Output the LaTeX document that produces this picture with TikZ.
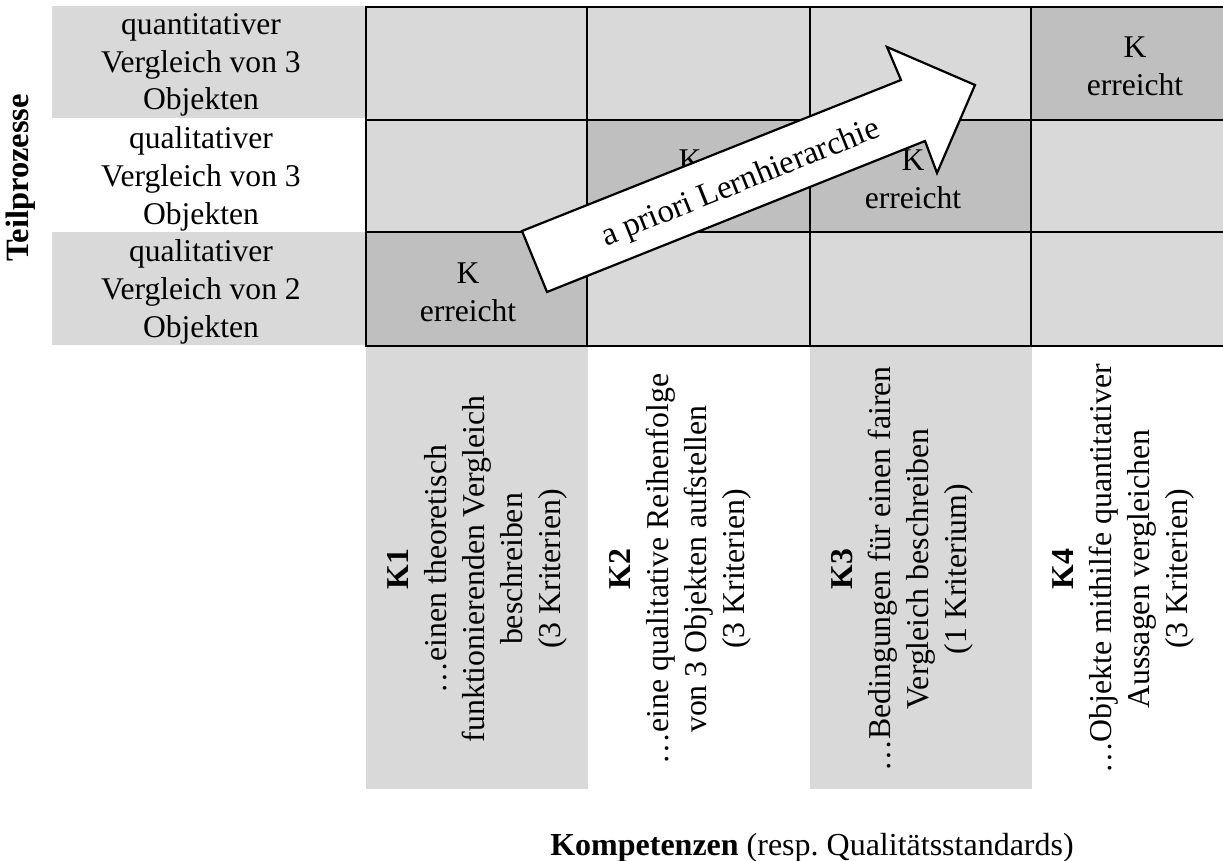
\documentclass[tikz,border=0pt]{standalone}
\usepackage{fontspec}
\setmainfont{Liberation Serif}
\definecolor{lightg}{HTML}{D9D9D9}
\definecolor{darkg}{HTML}{BFBFBF}
\begin{document}
\begin{tikzpicture}[x=1pt,y=-1pt,
  txt/.style={inner sep=0pt,align=center,font=\fontsize{31.6}{37.7}\selectfont},
  vtxt/.style={inner sep=0pt,align=center,rotate=90,font=\fontsize{31.8}{38}\selectfont},
  gridline/.style={line width=2.6pt,line cap=rect},
  arrowshape/.style={fill=white,draw=black,line width=2.2pt,line join=miter}]
\useasboundingbox (0,0) rectangle (1223,861);
% left column backgrounds
\fill[lightg] (52,6) rectangle (365,118);
\fill[lightg] (52,232) rectangle (365,345);
% bottom label backgrounds
\fill[lightg] (366,346) rectangle (588,789);
\fill[lightg] (810,346) rectangle (1032,789);
% grid fills
\fill[lightg] (366,7) rectangle (1223,346);
\fill[darkg] (366,232) rectangle (587,346);
\fill[darkg] (587,120) rectangle (810,232);
\fill[darkg] (810,120) rectangle (1031,232);
\fill[darkg] (1031,7) rectangle (1223,120);
% grid lines
\foreach \yy in {7,120,232,346} \draw[gridline] (366,\yy) -- (1226,\yy);
\foreach \xx in {366,587,810,1031} \draw[gridline] (\xx,7) -- (\xx,346);
% axis label left
\node[vtxt,font=\fontsize{32.5}{38}\selectfont\bfseries] (teil) at (21,178) {Teilprozesse};
% row labels
\node[txt] (r1) at (201,65) {quantitativer\\Vergleich von 3\\Objekten};
\node[txt] (r2) at (201,179) {qualitativer\\Vergleich von 3\\Objekten};
\node[txt] (r3) at (201,292) {qualitativer\\Vergleich von 2\\Objekten};
% cell texts
\node[txt] (c31) at (468,292) {K\\erreicht};
\node[txt] (c22) at (690,179) {K\\erreicht};
\node[txt] (c23) at (913,179) {K\\erreicht};
\node[txt] (c14) at (1135,66) {K\\erreicht};
% column labels
\node[vtxt] (k1) at (477.5,569) {\textbf{K1}\\…einen theoretisch\\funktionierenden Vergleich\\beschreiben\\(3 Kriterien)};
\node[vtxt] (k2) at (680,569) {\textbf{K2}\\…eine qualitative Reihenfolge\\von 3 Objekten aufstellen\\(3 Kriterien)};
\node[vtxt] (k3) at (902.5,569) {\textbf{K3}\\…Bedingungen für einen fairen\\Vergleich beschreiben\\(1 Kriterium)};
\node[vtxt] (k4) at (1123,569) {\textbf{K4}\\…Objekte mithilfe quantitativer\\Aussagen vergleichen\\(3 Kriterien)};
% axis label bottom
\node[inner sep=0pt,anchor=base,font=\fontsize{32}{38}\selectfont] (komp) at (812,855) {\textbf{Kompetenzen} (resp.\ Qualitätsstandards)};
% block arrow
\draw[arrowshape] (522,231) -- (901,80) -- (887,47) -- (975,85) -- (937,173) -- (925,141) -- (547,292) -- cycle;
\node[txt,rotate=21.8,font=\fontsize{32.8}{38}\selectfont] (lern) at (741,184) {a priori Lernhierarchie};
\end{tikzpicture}
\end{document}
